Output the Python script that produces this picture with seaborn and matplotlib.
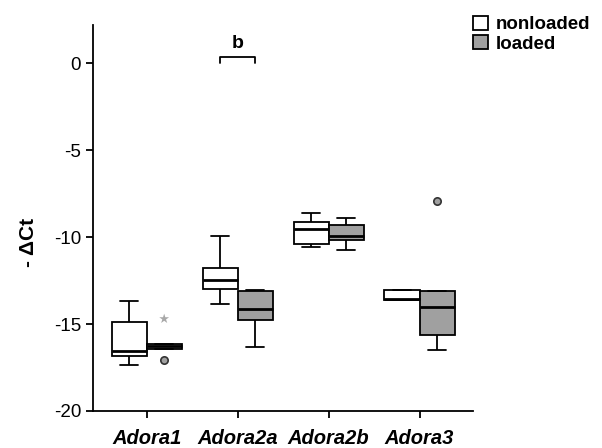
"""Boxplots of -dCt for adenosine receptor genes, nonloaded vs loaded"""

import pandas as pd
import matplotlib.pyplot as plt
import seaborn as sns
from matplotlib.patches import Patch

genes = ["Adora1", "Adora2a", "Adora2b", "Adora3"]
groups = ["nonloaded", "loaded"]

# five-number summaries (min, q1, median, q3, max)
nonloaded_values = [
    [-17.35, -16.83, -16.54, -14.87, -13.66],
    [-13.83, -12.97, -12.45, -11.76, -9.91],
    [-10.55, -10.37, -9.51, -9.16, -8.59],
    [-13.6, -13.6, -13.55, -13.03, -13.03],
]
loaded_values = [
    [-16.43, -16.43, -16.25, -16.12, -16.12],
    [-16.31, -14.75, -14.12, -13.08, -13.05],
    [-10.72, -10.14, -9.91, -9.28, -8.88],
    [-16.48, -15.62, -14.0, -13.08, -13.08],
]

# outliers (all in the loaded group)
outlier_genes = ["Adora1", "Adora1", "Adora3"]
outlier_values = [-17.06, -14.7, -7.9]
outlier_markers = ["o", "*", "o"]

rows = []
for gene, nl, ld in zip(genes, nonloaded_values, loaded_values):
    rows += [(gene, "nonloaded", v) for v in nl]
    rows += [(gene, "loaded", v) for v in ld]
df = pd.DataFrame(rows, columns=["gene", "group", "dct"])

sns.set_style("ticks")
plt.rcParams["font.family"] = ["Liberation Sans", "DejaVu Sans"]
plt.rcParams["axes.unicode_minus"] = False
plt.rcParams["text.color"] = "black"
plt.rcParams["axes.labelcolor"] = "black"
plt.rcParams["xtick.color"] = "black"
plt.rcParams["ytick.color"] = "black"
plt.rcParams["axes.edgecolor"] = "black"

fig = plt.figure(figsize=(6.02, 4.48), dpi=100)
ax = fig.add_axes([0.1545, 0.0826, 0.6315, 0.8614])

box_width = 0.77
line = dict(color="black", linewidth=1.3)
sns.boxplot(data=df, x="gene", y="dct", hue="group", order=genes, hue_order=groups,
            palette={"nonloaded": "white", "loaded": "#a0a0a0"},
            width=box_width, gap=0, dodge=True, whis=(0, 100), showfliers=False,
            boxprops=dict(edgecolor="black", linewidth=1.3),
            whiskerprops=line, capprops=line,
            medianprops=dict(color="black", linewidth=2),
            legend=False, ax=ax)

# outliers sit on the loaded box centres
for gene, val, mk in zip(outlier_genes, outlier_values, outlier_markers):
    x = genes.index(gene) + box_width / 4
    if mk == "o":
        ax.scatter(x, val, s=28, marker="o", facecolor="#a0a0a0",
                   edgecolor="#333333", linewidth=1.2, zorder=5)
    else:
        ax.scatter(x, val, s=55, marker="*", facecolor="#a8a8a8",
                   edgecolor="none", zorder=5)

# significance bracket over Adora2a
x0 = 1 - box_width / 4
x1 = 1 + box_width / 4
ax.plot([x0, x0, x1, x1], [0.0, 0.38, 0.38, 0.0], color="black", linewidth=1.3)
ax.text(1, 0.62, "b", ha="center", va="bottom", fontsize=14, fontweight="bold")

ax.set_xlim(-0.59, 3.59)
ax.set_ylim(-20, 2.19)
ax.set_yticks([0, -5, -10, -15, -20])
ax.set_xlabel("")
ax.set_ylabel("- ΔCt", fontsize=15, fontweight="bold")
ax.yaxis.set_label_coords(-0.145, 0.438)
ax.tick_params(axis="y", labelsize=13.5, width=1.3, length=5)
ax.tick_params(axis="x", width=1.3, length=5, pad=8)
for lab in ax.get_xticklabels():
    lab.set_fontsize(14.5)
    lab.set_fontweight("bold")
    lab.set_fontstyle("italic")
sns.despine(ax=ax)
for side in ["left", "bottom"]:
    ax.spines[side].set_linewidth(1.3)

handles = [Patch(facecolor="white", edgecolor="black", linewidth=1.3),
           Patch(facecolor="#a0a0a0", edgecolor="black", linewidth=1.3)]
fig.legend(handles, groups, loc="upper left", bbox_to_anchor=(0.758, 1.003),
           frameon=False, prop=dict(size=13.5, weight="bold"),
           handlelength=0.8, handleheight=0.8, handletextpad=0.4, labelspacing=0.1)

fig.savefig("out.png", dpi=100)
